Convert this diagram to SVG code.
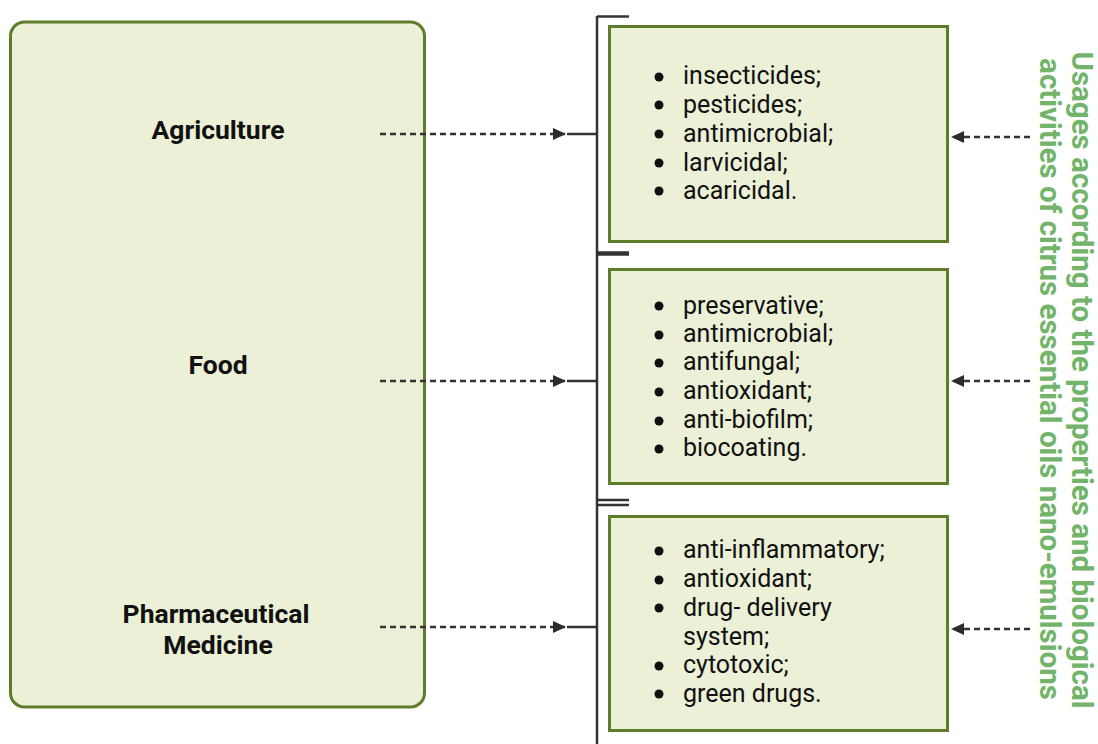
<svg xmlns="http://www.w3.org/2000/svg" width="1098" height="744" viewBox="0 0 1098 744">
<style>
.box{fill:#ebf0d6;stroke:#5e7d2b;stroke-width:3}
.lbl{font-family:Roboto,"Liberation Sans",sans-serif;font-weight:bold;font-size:26.5px;fill:#111;text-anchor:middle}
.item{font-family:Roboto,"Liberation Sans",sans-serif;font-size:25px;fill:#111}
.dash{stroke:#333;stroke-width:2.3;stroke-dasharray:6 4;fill:none}
.solid{stroke:#333;stroke-width:2.5;fill:none}
.vt{font-family:Roboto,"Liberation Sans",sans-serif;font-weight:bold;font-size:29.5px;fill:#72b46a;text-anchor:middle}
</style>
<defs>
<marker id="ah" markerWidth="14" markerHeight="14" refX="12" refY="7" orient="auto" markerUnits="userSpaceOnUse">
<path d="M0,1 L13,7 L0,13 Z" fill="#2b2b2b"/>
</marker>
</defs>
<g id="sectors">
<rect class="box" x="10.5" y="22" width="414" height="685" rx="14" stroke-width="2.5"/>
<text class="lbl" x="218" y="139">Agriculture</text>
<text class="lbl" x="218" y="374">Food</text>
<text class="lbl" x="216" y="623">Pharmaceutical</text>
<text class="lbl" x="218" y="654">Medicine</text>
</g>
<g id="box-agriculture">
<rect class="box" x="609.5" y="26.5" width="338" height="215"/>
<g class="item">
<circle cx="659" cy="77" r="4.5"/><text x="683" y="84">insecticides;</text>
<circle cx="659" cy="105" r="4.5"/><text x="683" y="113">pesticides;</text>
<circle cx="659" cy="134" r="4.5"/><text x="683" y="142">antimicrobial;</text>
<circle cx="659" cy="163" r="4.5"/><text x="683" y="171">larvicidal;</text>
<circle cx="659" cy="191" r="4.5"/><text x="683" y="199">acaricidal.</text>
</g>
</g>
<g id="box-food">
<rect class="box" x="609.5" y="269.5" width="338" height="214"/>
<g class="item">
<circle cx="659" cy="306" r="4.5"/><text x="683" y="314">preservative;</text>
<circle cx="659" cy="335" r="4.5"/><text x="683" y="342">antimicrobial;</text>
<circle cx="659" cy="363" r="4.5"/><text x="683" y="370">antifungal;</text>
<circle cx="659" cy="392" r="4.5"/><text x="683" y="399">antioxidant;</text>
<circle cx="659" cy="421" r="4.5"/><text x="683" y="428">anti-biofilm;</text>
<circle cx="659" cy="449" r="4.5"/><text x="683" y="456">biocoating.</text>
</g>
</g>
<g id="box-pharma">
<rect class="box" x="609.5" y="516.5" width="338" height="214"/>
<g class="item">
<circle cx="659" cy="551" r="4.5"/><text x="683" y="558">anti-inflammatory;</text>
<circle cx="659" cy="580" r="4.5"/><text x="683" y="587">antioxidant;</text>
<circle cx="659" cy="608" r="4.5"/><text x="683" y="616">drug- delivery</text>
<text x="683" y="645">system;</text>
<circle cx="659" cy="666" r="4.5"/><text x="683" y="673">cytotoxic;</text>
<circle cx="659" cy="694" r="4.5"/><text x="683" y="702">green drugs.</text>
</g>
</g>
<g id="side-title">
<text class="vt" transform="translate(1072,380) rotate(90)" x="0" y="0">Usages according to the properties and biological</text>
<text class="vt" transform="translate(1040,379) rotate(90)" x="0" y="0">activities of citrus essential oils nano-emulsions</text>
</g>
<g id="connectors">
<path class="solid" d="M597,16 V744"/>
<path class="solid" d="M597,16.5 H629"/>
<path d="M597,253.5 H629" stroke="#333" stroke-width="4.5"/>
<path class="solid" d="M597,500 H629 M597,505 H629" stroke-width="2"/>
<path class="dash" d="M380,134 H565" marker-end="url(#ah)"/>
<path class="solid" d="M567,134 H597"/>
<path class="dash" d="M380,381 H565" marker-end="url(#ah)"/>
<path class="solid" d="M567,381 H597"/>
<path class="dash" d="M380,627 H565" marker-end="url(#ah)"/>
<path class="solid" d="M567,627 H597"/>
<path class="dash" d="M1030,137 H952" marker-end="url(#ah)"/>
<path class="dash" d="M1030,381 H952" marker-end="url(#ah)"/>
<path class="dash" d="M1030,629 H952" marker-end="url(#ah)"/>
</g>
</svg>
